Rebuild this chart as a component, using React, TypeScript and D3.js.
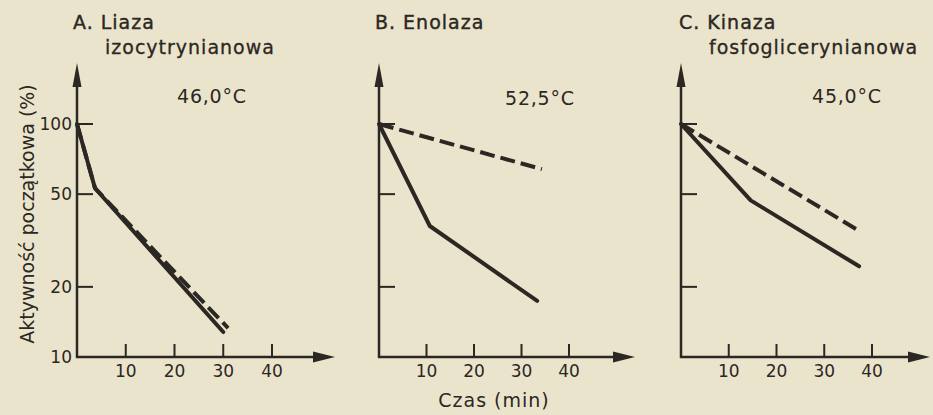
import React from "react";
import * as d3 from "d3";

const W = 933;
const H = 415;

const panelTitles = [["A. Liaza", "izocytrynianowa"], ["B. Enolaza"], ["C. Kinaza", "fosfoglicerynianowa"]];
const temperatures = ["46,0°C", "52,5°C", "45,0°C"];
const xTicks = [10, 20, 30, 40];
const yTicks = [10, 20, 50, 100];
const yLabels = ["10", "20", "50", "100"];

// time (min), activity (%)
const solidA: [number, number][] = [[0, 100], [3.7, 53], [30, 12.8]];
const dashedA: [number, number][] = [[0, 100], [3.7, 53], [31, 13.3]];
const solidB: [number, number][] = [[0, 100], [10.7, 36.5], [33.3, 17.4]];
const dashedB: [number, number][] = [[0, 100], [34.3, 64]];
const solidC: [number, number][] = [[0, 100], [14.6, 47], [37.3, 24.5]];
const dashedC: [number, number][] = [[0, 100], [37.3, 34.8]];

const solids = [solidA, solidB, solidC];
const dashes = [dashedA, dashedB, dashedC];

const axisX = [77, 379, 681];
const arrowEnd = [335, 635, 930];
const tickSpan40 = [195, 190, 191];
const tempX = [100, 126, 131];
const tempY = [103, 105, 103];
const titleX = [-4, -4, -2];

const INK = "#2b2722";
const BG = "#ebe4cd";
const FONT = "'DejaVu Sans', Verdana, sans-serif";

export default function App() {
  const y = d3.scaleLog().domain([10, 100]).range([357, 124]);
  const line = (xs: d3.ScaleLinear<number, number>) =>
    d3
      .line<[number, number]>()
      .x((d) => xs(d[0]))
      .y((d) => y(d[1]));

  return (
    <svg
      width={W}
      height={H}
      style={{ position: "absolute", left: 0, top: 0, background: BG }}
      fontFamily={FONT}
    >
      <rect x={0} y={0} width={W} height={H} fill={BG} />
      {[0, 1, 2].map((i) => {
        const x0 = axisX[i];
        const xs = d3.scaleLinear().domain([0, 40]).range([x0, x0 + tickSpan40[i]]);
        const yBase = y(10);
        const lg = line(xs);
        return (
          <g key={i}>
            {/* y axis */}
            <line x1={x0} x2={x0} y1={yBase + 1} y2={80} stroke={INK} strokeWidth={2.5} />
            <path d={`M${x0},63 L${x0 - 4.5},87 L${x0 + 4.5},87 Z`} fill={INK} />
            {/* x axis */}
            <line x1={x0 - 1} x2={arrowEnd[i] - 15} y1={yBase} y2={yBase} stroke={INK} strokeWidth={2.5} />
            <path d={`M${arrowEnd[i]},${yBase} L${arrowEnd[i] - 22},${yBase - 5.5} L${arrowEnd[i] - 22},${yBase + 5.5} Z`} fill={INK} />
            {/* y ticks */}
            {yTicks.slice(1).map((t) => (
              <line key={t} x1={x0} x2={x0 + 16} y1={y(t)} y2={y(t)} stroke={INK} strokeWidth={2} />
            ))}
            {i === 0 &&
              yTicks.map((t, k) => (
                <text
                  key={t}
                  x={x0 - 5}
                  y={y(t)}
                  dy="0.36em"
                  textAnchor="end"
                  fontSize={17}
                  fill={INK}
                >
                  {yLabels[k]}
                </text>
              ))}
            {/* x ticks */}
            {xTicks.map((t) => (
              <g key={t}>
                <line x1={xs(t)} x2={xs(t)} y1={yBase} y2={yBase - 13} stroke={INK} strokeWidth={2} />
                <text x={xs(t)} y={yBase + 20} textAnchor="middle" fontSize={17} fill={INK}>
                  {t}
                </text>
              </g>
            ))}
            {/* data lines */}
            <path d={lg(dashes[i]) || ""} fill="none" stroke={INK} strokeWidth={4} strokeDasharray="15,6" strokeLinejoin="round" />
            <path d={lg(solids[i]) || ""} fill="none" stroke={INK} strokeWidth={4} strokeLinejoin="round" strokeLinecap="round" />
            {/* temperature */}
            <text x={x0 + tempX[i]} y={tempY[i]} fontSize={19} letterSpacing={0.8} fill={INK}>
              {temperatures[i]}
            </text>
            {/* titles */}
            <text x={x0 + titleX[i]} y={29} fontSize={19} letterSpacing={1} fill={INK} stroke={INK} strokeWidth={0.4}>
              {panelTitles[i][0]}
            </text>
            {panelTitles[i][1] && (
              <text x={x0 + 28} y={54} fontSize={19} letterSpacing={1} fill={INK} stroke={INK} strokeWidth={0.3}>
                {panelTitles[i][1]}
              </text>
            )}
          </g>
        );
      })}
      <text
        transform="translate(34,214) rotate(-90)"
        textAnchor="middle"
        fontSize={19}
        fill={INK}
      >
        Aktywność początkowa (%)
      </text>
      <text x={494} y={407} textAnchor="middle" fontSize={19} letterSpacing={1} fill={INK}>
        Czas (min)
      </text>
    </svg>
  );
}
